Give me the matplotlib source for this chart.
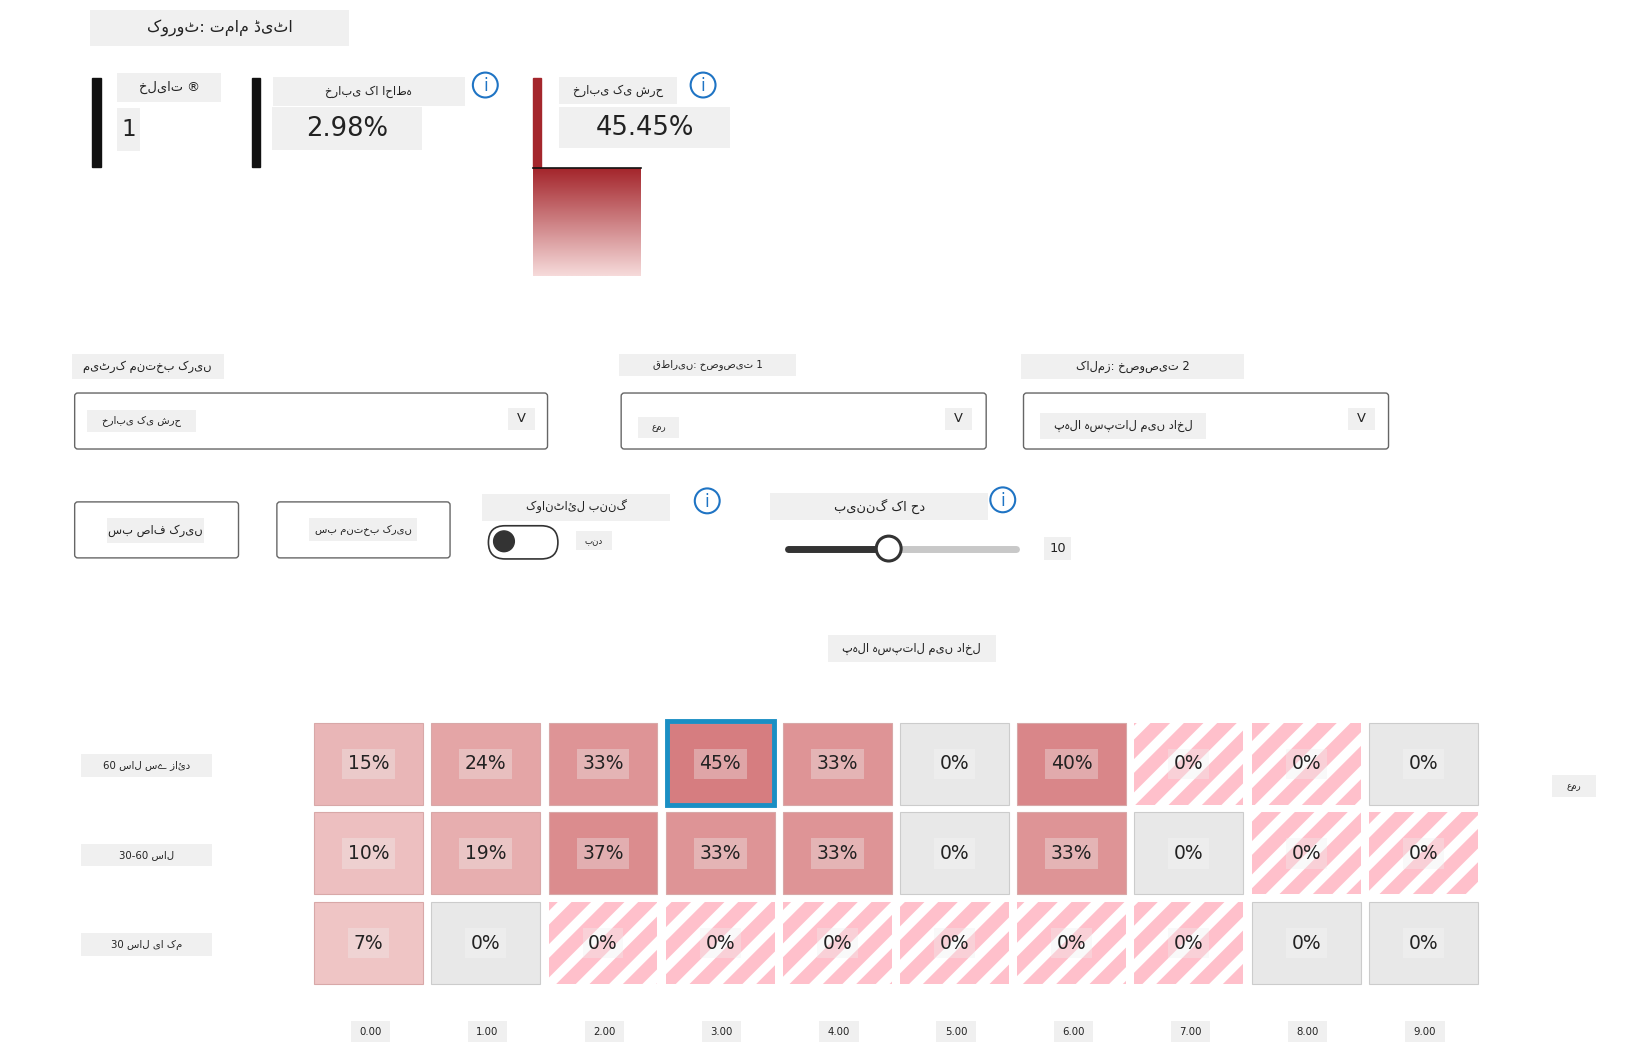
import matplotlib
matplotlib.use("Agg")
import matplotlib.pyplot as plt
from matplotlib.patches import Rectangle, FancyBboxPatch, Circle
from matplotlib.colors import LinearSegmentedColormap
from matplotlib import font_manager
import numpy as np

names = {f.name for f in font_manager.fontManager.ttflist}
fam = ['DejaVu Sans'] + [n for n in ['Noto Sans Arabic', 'Noto Naskh Arabic', 'Noto Nastaliq Urdu',
                                      'Noto Sans', 'Liberation Sans', 'FreeSans', 'Amiri'] if n in names]
plt.rcParams['font.family'] = fam
plt.rcParams['hatch.linewidth'] = 7
plt.rcParams['hatch.color'] = 'white'

cohort_label = "کوروٹ: تمام ڈیٹا"
kpi_labels = ["خلیات ®", "خرابی کا احاطہ", "خرابی کی شرح"]
kpi_values = ["1", "2.98%", "45.45%"]
col_labels = ["0.00", "1.00", "2.00", "3.00", "4.00", "5.00", "6.00", "7.00", "8.00", "9.00"]
row_labels = ["60 سال سے زائد", "30-60 سال", "30 سال یا کم"]
# NaN = no data (hatched cell)
nan = np.nan
err_rate = [
    [15, 24, 33, 45, 33, 0, 40, nan, nan, 0],
    [10, 19, 37, 33, 33, 0, 33, 0, nan, nan],
    [7, 0, nan, nan, nan, nan, nan, nan, 0, 0],
]
col_title = "پہلا ہسپتال میں داخل"
row_title = "عمر"

W, H = 1626, 1057
S = 1626 / 1568.0
fig = plt.figure(figsize=(W/100, H/100), dpi=100)
ax = fig.add_axes([0, 0, 1, 1])
ax.set_xlim(0, W/S); ax.set_ylim(H/S, 0); ax.axis('off')
GR = '#f0f0f0'

def lab(x, y, w, h, s, fs=9, ha='center', color='#222'):
    ax.add_patch(Rectangle((x, y), w, h, color=GR, lw=0))
    ax.text(x + w/2, y + h/2, s, fontsize=fs*S, ha=ha, va='center', color=color)

def info(x, y):
    ax.add_patch(Circle((x, y), 12, fill=False, ec='#1f74c4', lw=1.5))
    ax.text(x, y+1, 'i', fontsize=12*S, ha='center', va='center', color='#1f74c4')

lab(87, 10, 250, 34, cohort_label, fs=11)
# KPIs
ax.add_patch(Rectangle((89, 75), 8, 86, color='#111'))
lab(113, 70, 100, 28, kpi_labels[0], fs=9)
lab(113, 104, 22, 42, kpi_values[0], fs=16)
ax.add_patch(Rectangle((243, 75), 8, 86, color='#111'))
lab(263, 74, 185, 28, kpi_labels[1], fs=8)
lab(262, 103, 145, 42, kpi_values[1], fs=18)
info(468, 82)
ax.add_patch(Rectangle((514, 75), 8, 87, color='#a4262c'))
lab(539, 74, 114, 26, kpi_labels[2], fs=8)
lab(539, 103, 165, 40, kpi_values[2], fs=18)
info(678, 82)
grad = np.linspace(0, 1, 100).reshape(-1, 1)
gcm = LinearSegmentedColormap.from_list('g', ['#a4262c', '#f6dada'])
ax.imshow(grad, cmap=gcm, extent=(514, 618, 266, 162), aspect='auto', zorder=1)
ax.plot([514, 618], [162, 162], color='#111', lw=1.2)

# dropdowns
def box(x, y, w, h):
    ax.add_patch(FancyBboxPatch((x, y), w, h, boxstyle='round,pad=0,rounding_size=3',
                                fill=False, ec='#666', lw=1))
lab(69, 341, 147, 24, "میٹرک منتخب کریں", fs=8)
box(72, 379, 456, 54); lab(84, 395, 105, 22, "خرابی کی شرح", fs=7)
lab(490, 393, 26, 22, "V", fs=9)
lab(597, 341, 171, 22, "قطاریں: خصوصیت 1", fs=7)
box(599, 379, 352, 54); lab(615, 402, 40, 20, "عمر", fs=6)
lab(911, 393, 26, 22, "V", fs=9)
lab(985, 341, 215, 24, "کالمز: خصوصیت 2", fs=8)
box(987, 379, 352, 54); lab(1003, 398, 160, 25, "پہلا ہسپتال میں داخل", fs=8)
lab(1300, 393, 26, 22, "V", fs=9)

# buttons
box(72, 484, 158, 54); lab(103, 500, 94, 24, "سب صاف کریں", fs=8)
box(267, 484, 167, 54); lab(298, 500, 104, 22, "سب منتخب کریں", fs=7)
lab(465, 476, 181, 26, "کوانٹائل بننگ", fs=8)
info(682, 483)
ax.add_patch(FancyBboxPatch((471, 507), 67, 32, boxstyle='round,pad=0,rounding_size=16',
                            fill=False, ec='#333', lw=1.2))
ax.add_patch(Circle((486, 522), 10, color='#333'))
lab(555, 512, 35, 18, "بند", fs=6)
lab(743, 475, 210, 26, "بیننگ کا حد", fs=9)
info(967, 482)
ax.plot([760, 857], [529, 529], color='#333', lw=5, solid_capstyle='round')
ax.plot([857, 980], [529, 529], color='#c8c8c8', lw=5, solid_capstyle='round')
ax.add_patch(Circle((857, 529), 12, fc='white', ec='#333', lw=2.2, zorder=5))
lab(1007, 518, 26, 22, "10", fs=9)

# heatmap
lab(798, 612, 162, 26, col_title, fs=8)
lab(1497, 747, 42, 22, row_title, fs=6)
cmap = LinearSegmentedColormap.from_list('r', ['#f3d2d2', '#d67d80'])
x0, y0, dx, dy, cw, ch = 303, 697, 113.0, 86.5, 105, 79
for i, row in enumerate(err_rate):
    for j, v in enumerate(row):
        x = x0 + j*dx; y = y0 + i*dy
        if np.isnan(v):
            ax.add_patch(Rectangle((x, y), cw, ch, fc='#ffc0cb', ec='white', hatch='/', lw=0))
            txt = "0%"
        elif v == 0:
            ax.add_patch(Rectangle((x, y), cw, ch, fc='#e8e8e8', ec='#cccccc', lw=0.8))
            txt = "0%"
        else:
            ax.add_patch(Rectangle((x, y), cw, ch, fc=cmap(v/45), ec='#d8a8a8', lw=0.8))
            txt = f"{v:.0f}%"
        ax.text(x + cw/2, y + ch/2, txt, fontsize=13*S, ha='center', va='center', color='#222',
                bbox=dict(fc=(0.94, 0.94, 0.94, 0.35) if not (v == 0) else (0.93, 0.93, 0.93, 1),
                          ec='none', pad=4))
ax.add_patch(Rectangle((x0 + 3*dx + 1, y0 - 2), cw - 2, ch + 2, fill=False, ec='#1a8fc4', lw=3.5, zorder=6))
for i, r in enumerate(row_labels):
    lab(78, 727 + i*dy, 126, 22, r, fs=7)
for j, c in enumerate(col_labels):
    lab(x0 + j*dx + 35, 985, 38, 20, c, fs=7)

fig.savefig("out.png", dpi=100)
